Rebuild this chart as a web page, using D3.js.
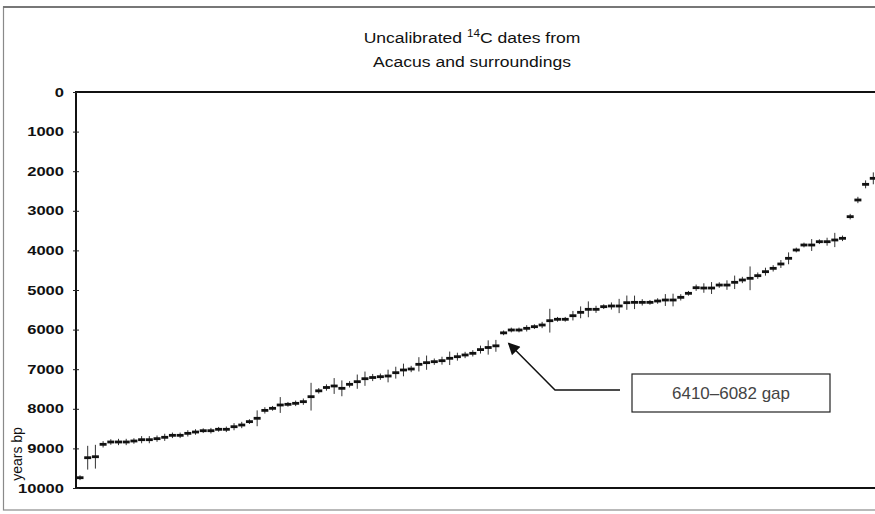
<!DOCTYPE html>
<html>
<head>
<meta charset="utf-8">
<script src="https://cdn.jsdelivr.net/npm/d3@7/dist/d3.min.js"></script>
<style>
  html, body { margin: 0; padding: 0; background: #fff; }
  svg { display: block; }
</style>
</head>
<body>
<svg id="chart" width="875" height="514"></svg>
<script>
// Uncalibrated radiocarbon dates (years bp), sorted oldest to youngest
const dates = [
  9740, 9235, 9210, 8897, 8838, 8838, 8838, 8813, 8780, 8780,
  8754, 8720, 8670, 8670, 8620, 8586, 8553, 8553, 8518, 8518,
  8452, 8409, 8324, 8240, 8040, 7988, 7904, 7887, 7862, 7820,
  7694, 7546, 7462, 7424, 7483, 7382, 7315, 7240, 7210, 7189,
  7172, 7088, 7020, 6995, 6877, 6835, 6810, 6785, 6725, 6684,
  6641, 6599, 6505, 6452, 6410, 6082, 6010, 6010, 5968, 5926,
  5884, 5775, 5740, 5740, 5649, 5564, 5488, 5488, 5421, 5404,
  5404, 5320, 5312, 5312, 5312, 5278, 5253, 5253, 5185, 5084,
  4942, 4950, 4950, 4875, 4875, 4806, 4747, 4705, 4638, 4537,
  4453, 4343, 4200, 3990, 3864, 3864, 3780, 3780, 3737, 3695,
  3148, 2727, 2332, 2180
];

// One-sigma standard errors (years)
const errors = [
  60, 300, 300, 80, 70, 80, 80, 70, 90, 90,
  80, 90, 70, 70, 80, 70, 60, 70, 60, 70,
  90, 80, 60, 200, 80, 60, 200, 60, 70, 80,
  350, 70, 80, 200, 200, 80, 180, 180, 90, 80,
  160, 150, 160, 80, 180, 180, 80, 100, 170, 100,
  80, 80, 100, 180, 150, 60, 60, 60, 80, 60,
  80, 300, 60, 60, 120, 150, 200, 90, 60, 90,
  180, 180, 170, 80, 60, 70, 150, 160, 80, 60,
  80, 120, 150, 70, 120, 170, 80, 300, 80, 100,
  80, 100, 150, 60, 60, 150, 60, 100, 180, 70,
  70, 80, 100, 150
];

const yTicks = [0, 1000, 2000, 3000, 4000, 5000, 6000, 7000, 8000, 9000, 10000];

const titleLines = ["Uncalibrated ", "Acacus and surroundings"];
const gapLabel = "6410\u20136082 gap";
const gapBefore = 6410;
const gapAfter = 6082;

const svg = d3.select("#chart");

// Outer chart frame
svg.append("rect")
  .attr("x", 3.5).attr("y", 7).attr("width", 900).attr("height", 503)
  .attr("fill", "none").attr("stroke", "#8a8a8a").attr("stroke-width", 1.2);
svg.append("line")
  .attr("x1", 3).attr("x2", 875).attr("y1", 7).attr("y2", 7)
  .attr("stroke", "#777").attr("stroke-width", 2);

const plot = { left: 76, top: 92, right: 900, bottom: 488 };

const x = d3.scaleLinear().domain([0, dates.length - 1]).range([80, 873.3]);
const y = d3.scaleLinear().domain([0, 10000]).range([plot.top, plot.bottom]);

// Title (slightly wide lettering)
const titleG = svg.append("g").attr("transform", "translate(472,0) scale(1.17,1)");
const title = titleG.append("text")
  .attr("x", 0).attr("y", 43)
  .attr("text-anchor", "middle")
  .attr("font-family", "Liberation Sans, Arial, sans-serif")
  .attr("font-size", 15)
  .attr("fill", "#111");
title.append("tspan").text(titleLines[0]);
title.append("tspan").attr("dy", -6).attr("font-size", 10).text("14");
title.append("tspan").attr("dy", 6).text("C dates from");
titleG.append("text")
  .attr("x", 0).attr("y", 67)
  .attr("text-anchor", "middle")
  .attr("font-family", "Liberation Sans, Arial, sans-serif")
  .attr("font-size", 15)
  .attr("fill", "#111")
  .text(titleLines[1]);

// Plot frame
svg.append("rect")
  .attr("x", plot.left).attr("y", plot.top)
  .attr("width", plot.right - plot.left).attr("height", plot.bottom - plot.top)
  .attr("fill", "none").attr("stroke", "#111").attr("stroke-width", 2);

// Y axis
const yAxis = d3.axisLeft(y).tickValues(yTicks).tickSize(3).tickPadding(9)
  .tickFormat(d3.format("d"));
const gy = svg.append("g")
  .attr("transform", `translate(${plot.left},0)`)
  .call(yAxis);
gy.select(".domain").remove();
gy.selectAll(".tick line").attr("x1", 3).attr("stroke", "#222");
gy.selectAll(".tick text")
  .attr("font-family", "Liberation Sans, Arial, sans-serif")
  .attr("font-size", 12.5).attr("font-weight", "bold").attr("fill", "#111")
  .attr("textLength", d => String(d).length * 9.2)
  .attr("lengthAdjust", "spacingAndGlyphs");

// Y axis title
svg.append("text")
  .attr("transform", `translate(22,454) rotate(-90)`)
  .attr("text-anchor", "middle")
  .attr("font-family", "Liberation Sans, Arial, sans-serif")
  .attr("font-size", 14)
  .attr("fill", "#111")
  .text("years bp");

// Error bars and date markers
const marks = svg.append("g");
marks.selectAll("line.err")
  .data(dates)
  .join("line")
  .attr("class", "err")
  .attr("x1", (d, i) => x(i)).attr("x2", (d, i) => x(i))
  .attr("y1", (d, i) => y(d - errors[i]))
  .attr("y2", (d, i) => y(d + errors[i]))
  .attr("stroke", "#333").attr("stroke-width", 1);
marks.selectAll("rect.date")
  .data(dates)
  .join("rect")
  .attr("class", "date")
  .attr("x", (d, i) => x(i) - 3.5)
  .attr("y", d => y(d) - 1.4)
  .attr("width", 7).attr("height", 2.8)
  .attr("fill", "#111");

// Gap annotation
const gapIdx = dates.indexOf(gapAfter);
const tip = [x(gapIdx) + 5, y((gapBefore + gapAfter) / 2) + 4];
const elbow = [555, 390];
const boxX = 632, boxY = 374, boxW = 198, boxH = 38;

svg.append("defs").append("marker")
  .attr("id", "head")
  .attr("viewBox", "0 0 10 10")
  .attr("refX", 9).attr("refY", 5)
  .attr("markerWidth", 16).attr("markerHeight", 12)
  .attr("markerUnits", "userSpaceOnUse")
  .attr("orient", "auto")
  .append("path").attr("d", "M0,0 L10,5 L0,10 Z").attr("fill", "#111");

svg.append("path")
  .attr("d", `M${boxX - 12},${elbow[1]} L${elbow[0]},${elbow[1]} L${tip[0]},${tip[1]}`)
  .attr("fill", "none").attr("stroke", "#111").attr("stroke-width", 1.5)
  .attr("marker-end", "url(#head)");

svg.append("rect")
  .attr("x", boxX).attr("y", boxY).attr("width", boxW).attr("height", boxH)
  .attr("fill", "#fff").attr("stroke", "#222").attr("stroke-width", 1.2);
svg.append("text")
  .attr("x", boxX + boxW / 2).attr("y", boxY + boxH / 2 + 6)
  .attr("text-anchor", "middle")
  .attr("font-family", "Liberation Sans Narrow, Arial Narrow, sans-serif")
  .attr("font-size", 17)
  .attr("textLength", 118).attr("lengthAdjust", "spacingAndGlyphs")
  .attr("fill", "#444")
  .text(gapLabel);
</script>
</body>
</html>
